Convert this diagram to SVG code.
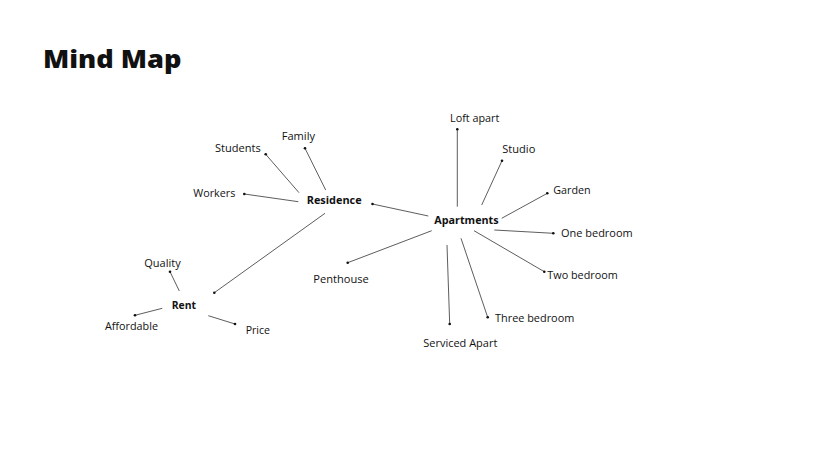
<svg xmlns="http://www.w3.org/2000/svg" width="820" height="461" viewBox="0 0 820 461">
<style>
text{font-family:"Open Sans","DejaVu Sans",sans-serif;fill:#111;}
.t{font-size:24.5px;font-weight:800;}
.h{font-size:11px;font-weight:700;}
.l{font-size:11.2px;}
.c line{stroke:#333;stroke-width:0.8;}
.c circle{fill:#111;}
</style>
<rect width="820" height="461" fill="#fff"/>
<text class="t" x="43" y="67.5" textLength="138.5" lengthAdjust="spacingAndGlyphs">Mind Map</text>
<g id="connectors" class="c">
<line x1="299" y1="192.7" x2="265.7" y2="154.3"/><circle cx="265.7" cy="154.3" r="1.3"/>
<line x1="325.7" y1="190" x2="305" y2="148.3"/><circle cx="305" cy="148.3" r="1.3"/>
<line x1="298.3" y1="201.7" x2="244.3" y2="194"/><circle cx="244.3" cy="194" r="1.3"/>
<line x1="428.3" y1="216" x2="372.5" y2="204"/><circle cx="372.5" cy="204" r="1.3"/>
<line x1="325" y1="213.3" x2="214.3" y2="292.7"/><circle cx="214.3" cy="292.7" r="1.3"/>
<line x1="457.3" y1="206.7" x2="457.3" y2="129.3"/><circle cx="457.3" cy="129.3" r="1.3"/>
<line x1="481.7" y1="205" x2="502" y2="160.7"/><circle cx="502" cy="160.7" r="1.3"/>
<line x1="501.7" y1="218.3" x2="547.3" y2="193.3"/><circle cx="547.3" cy="193.3" r="1.3"/>
<line x1="494.3" y1="230" x2="553.3" y2="233.3"/><circle cx="553.3" cy="233.3" r="1.3"/>
<line x1="474" y1="230.7" x2="544.3" y2="271.7"/><circle cx="544.3" cy="271.7" r="1.3"/>
<line x1="461" y1="238.3" x2="487.7" y2="317.3"/><circle cx="487.7" cy="317.3" r="1.3"/>
<line x1="447" y1="245" x2="449.7" y2="324"/><circle cx="449.7" cy="324" r="1.3"/>
<line x1="431.7" y1="230.7" x2="347.7" y2="262.7"/><circle cx="347.7" cy="262.7" r="1.3"/>
<line x1="179.3" y1="291" x2="170" y2="271.7"/><circle cx="170" cy="271.7" r="1.3"/>
<line x1="162.3" y1="308.3" x2="135" y2="315.3"/><circle cx="135" cy="315.3" r="1.3"/>
<line x1="208.3" y1="315.7" x2="235" y2="324"/><circle cx="235" cy="324" r="1.3"/>
</g>
<g id="residence"><text class="h" x="306.7" y="203.5" textLength="55" lengthAdjust="spacingAndGlyphs">Residence</text></g>
<g id="apartments"><text class="h" x="434.3" y="224" textLength="64.3" lengthAdjust="spacingAndGlyphs">Apartments</text></g>
<g id="rent"><text class="h" x="171.7" y="308.7" textLength="24.3" lengthAdjust="spacingAndGlyphs">Rent</text></g>
<g id="family"><text class="l" x="281.7" y="139.5" textLength="33.3" lengthAdjust="spacingAndGlyphs">Family</text></g>
<g id="students"><text class="l" x="215" y="152.3" textLength="45.7" lengthAdjust="spacingAndGlyphs">Students</text></g>
<g id="workers"><text class="l" x="193.3" y="197.3" textLength="42" lengthAdjust="spacingAndGlyphs">Workers</text></g>
<g id="loft"><text class="l" x="450" y="122" textLength="49.3" lengthAdjust="spacingAndGlyphs">Loft apart</text></g>
<g id="studio"><text class="l" x="502.3" y="152.7" textLength="33" lengthAdjust="spacingAndGlyphs">Studio</text></g>
<g id="garden"><text class="l" x="553.3" y="194.3" textLength="37.4" lengthAdjust="spacingAndGlyphs">Garden</text></g>
<g id="one-bedroom"><text class="l" x="561" y="236.7" textLength="71.7" lengthAdjust="spacingAndGlyphs">One bedroom</text></g>
<g id="two-bedroom"><text class="l" x="547.3" y="278.7" textLength="70.4" lengthAdjust="spacingAndGlyphs">Two bedroom</text></g>
<g id="three-bedroom"><text class="l" x="495" y="321.7" textLength="79.3" lengthAdjust="spacingAndGlyphs">Three bedroom</text></g>
<g id="serviced"><text class="l" x="423.3" y="346.7" textLength="74" lengthAdjust="spacingAndGlyphs">Serviced Apart</text></g>
<g id="penthouse"><text class="l" x="313.3" y="282.7" textLength="55.4" lengthAdjust="spacingAndGlyphs">Penthouse</text></g>
<g id="quality"><text class="l" x="144.3" y="266.7" textLength="36.4" lengthAdjust="spacingAndGlyphs">Quality</text></g>
<g id="affordable"><text class="l" x="105" y="330" textLength="53" lengthAdjust="spacingAndGlyphs">Affordable</text></g>
<g id="price"><text class="l" x="245.7" y="333.7" textLength="24.3" lengthAdjust="spacingAndGlyphs">Price</text></g>
</svg>
